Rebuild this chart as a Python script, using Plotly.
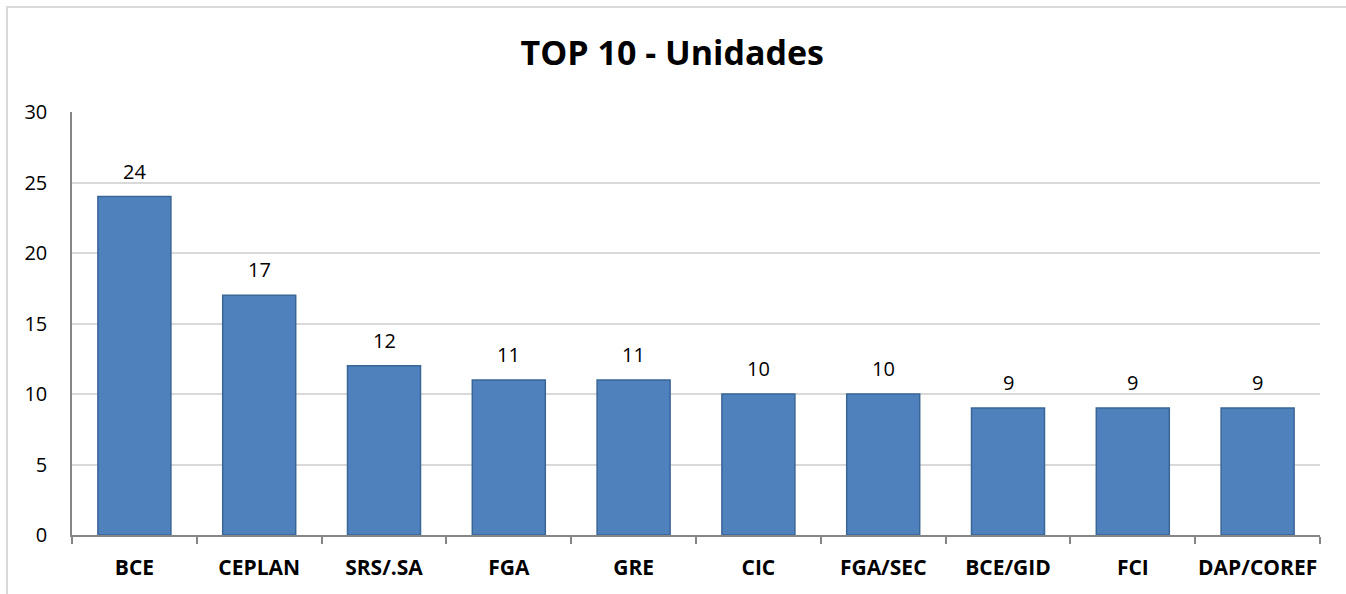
import plotly.graph_objects as go

# Top 10 units by count
unidades = ["BCE", "CEPLAN", "SRS/.SA", "FGA", "GRE", "CIC", "FGA/SEC", "BCE/GID", "FCI", "DAP/COREF"]
valores = [24, 17, 12, 11, 11, 10, 10, 9, 9, 9]
y_ticks = [0, 5, 10, 15, 20, 25, 30]

FONT = "Open Sans"

fig = go.Figure()
fig.add_trace(go.Bar(
    x=unidades,
    y=valores,
    marker=dict(color="#4F81BD", line=dict(color="#3A6597", width=1.5)),
    hoverinfo="x+y",
))

# value labels above each bar
for u, v in zip(unidades, valores):
    fig.add_annotation(
        x=u, y=v, text=str(v), showarrow=False,
        yanchor="bottom", yshift=10,
        font=dict(family=FONT, size=20, color="#000000"),
    )

# outer chart frame
fig.add_shape(
    type="rect", xref="paper", yref="paper",
    x0=-0.0521, x1=1.05, y0=-0.2, y1=1.248,
    line=dict(color="#D9D9D9", width=2), fillcolor="rgba(0,0,0,0)",
    layer="below",
)

fig.update_layout(
    width=1346, height=594,
    margin=dict(l=72, r=26, t=112, b=59),
    paper_bgcolor="white", plot_bgcolor="white",
    bargap=0.415,
    showlegend=False,
    title=dict(
        text="<b>TOP 10 - Unidades</b>",
        x=0.4995, xanchor="center", xref="container",
        y=1 - 53 / 594, yanchor="middle",
        font=dict(family=FONT, size=34, color="#000000"),
    ),
    xaxis=dict(
        type="category",
        showline=True, linecolor="#868686", linewidth=1.5,
        ticks="outside", tickson="boundaries", ticklen=7,
        tickcolor="#868686", tickwidth=1.5,
        showgrid=False,
        tickangle=0, automargin=False,
        ticklabelstandoff=13,
        tickfont=dict(family=FONT, size=21, color="#000000", weight="bold"),
    ),
    yaxis=dict(
        range=[0, 30],
        tickvals=y_ticks,
        showline=True, linecolor="#868686", linewidth=1.5,
        showgrid=True, gridcolor="#D9D9D9", gridwidth=1.5,
        zeroline=False, automargin=False,
        ticks="", ticklabelstandoff=19,
        tickfont=dict(family=FONT, size=20, color="#000000"),
        fixedrange=True,
    ),
)

fig.write_html("out.html")
